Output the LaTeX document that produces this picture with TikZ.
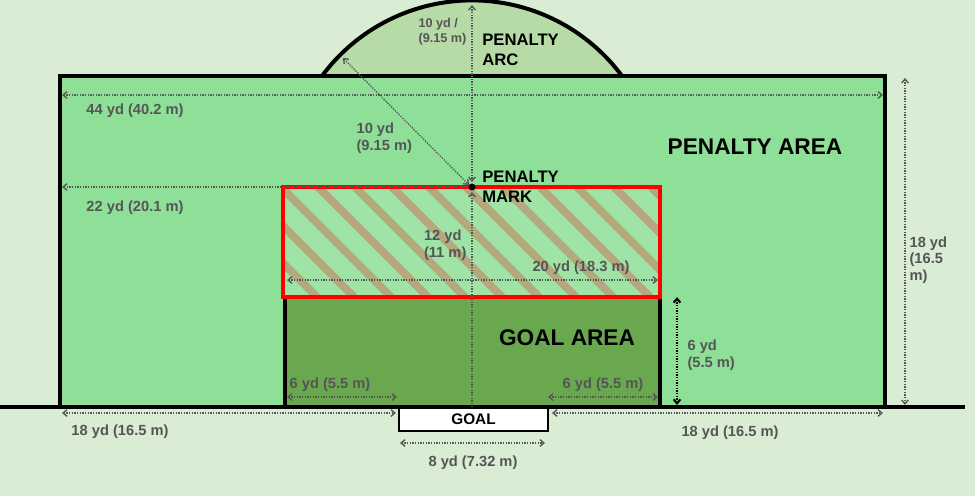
\documentclass[tikz,border=0pt]{standalone}
\usepackage{fontspec}
\setmainfont{Liberation Sans}
\usetikzlibrary{arrows.meta}
\definecolor{bg}{HTML}{D9ECD4}
\definecolor{pa}{HTML}{8EDF97}
\definecolor{arcc}{HTML}{B6DBA6}
\definecolor{ga}{HTML}{6AA84F}
\definecolor{hz}{HTML}{A0E3A6}
\definecolor{st}{HTML}{B3A97C}
\definecolor{dim}{HTML}{555555}
\begin{document}
\begin{tikzpicture}[x=0.75pt,y=-0.75pt,
  dimline/.style={dim,densely dotted,line width=1pt,{Straight Barb[length=3pt,width=5pt]}-{Straight Barb[length=3pt,width=5pt]}},
  dimone/.style={dim,densely dotted,line width=1pt,-{Straight Barb[length=3pt,width=5pt]}},
  lab/.style={text=dim,font=\bfseries\fontsize{11}{12.5}\selectfont,inner sep=1pt,align=left},
  big/.style={font=\bfseries\fontsize{17}{18}\selectfont,inner sep=0pt},
  mid/.style={font=\bfseries\fontsize{12.5}{13}\selectfont,inner sep=0pt,align=left,anchor=west},
  border/.style={line width=3pt,draw=black}]
\fill[bg] (0,0) rectangle (975,496);
\useasboundingbox (0,0) rectangle (975,496);
% arc
\coordinate (pm) at (472,187);
\filldraw[fill=arcc,border] (322,76) arc[start angle=-143.5,end angle=-36.5,radius=186.6];
% penalty area
\filldraw[fill=pa,border] (60,407) -- (60,76) -- (885,76) -- (885,407);
% goal area
\filldraw[fill=ga,border] (285,407) -- (285,297) -- (660,297) -- (660,407);
% hatched zone
\fill[hz] (283,187) rectangle (660,297);
\begin{scope}
\clip (283,187) rectangle (660,297);
\foreach \i in {0,...,14}{\draw[st,line width=6pt] (170+\i*37,187) -- (280+\i*37,297);}
\end{scope}
\draw[red,line width=3pt] (283,187) rectangle (660,297);
% goal line
\draw[line width=3pt] (0,407) -- (965,407);
\node[draw=black,line width=1.5pt,fill=white,minimum width=149*0.75pt,minimum height=23*0.75pt,anchor=north west,inner sep=0pt,font=\bfseries\fontsize{11.5}{12}\selectfont] (goal) at (398,407) {GOAL};
\fill (pm) circle (3.5);
% coordinates
\coordinate (a1) at (62,95); \coordinate (a2) at (883,95);
\coordinate (b1) at (62,187); \coordinate (b2) at (468,187);
\coordinate (arcpt) at (343,58); \coordinate (pmd) at (469,185);
\coordinate (top) at (472,5); \coordinate (pmu) at (472,182);
\coordinate (pml) at (472,192); \coordinate (gl) at (472,407);
\coordinate (c1) at (287,280); \coordinate (c2) at (658,280);
\coordinate (d1) at (287,397); \coordinate (d2) at (397,397);
\coordinate (e1) at (548,397); \coordinate (e2) at (658,397);
\coordinate (f1) at (677,297); \coordinate (f2) at (677,405);
\coordinate (g1) at (905,78); \coordinate (g2) at (905,405);
\coordinate (h1) at (62,413); \coordinate (h2) at (396,413);
\coordinate (i1) at (552,413); \coordinate (i2) at (883,413);
\coordinate (j1) at (400,443); \coordinate (j2) at (545,443);
\draw[dimline] (a1) -- (a2);
\draw[dimone] (b2) -- (b1);
\draw[dimline] (arcpt) -- (pmd);
\draw[dimline] (top) -- (pmu);
\draw[dimone] (gl) -- (pml);
\draw[dimline] (c1) -- (c2);
\draw[dimline] (d1) -- (d2);
\draw[dimline] (e1) -- (e2);
\draw[dimline,densely dotted,line width=1.6pt,black] (f1) -- (f2);
\draw[dimline] (g1) -- (g2);
\draw[dimline] (h1) -- (h2);
\draw[dimline] (i1) -- (i2);
\draw[dimline] (j1) -- (j2);
% labels
\node[lab] (l44) at (135,111) {44 yd (40.2 m)};
\node[lab] (l22) at (135,208) {22 yd (20.1 m)};
\node[lab,anchor=west] (l10) at (355,138) {10 yd\\(9.15 m)};
\node[lab,anchor=east,font=\bfseries\fontsize{9.5}{11}\selectfont] (l10b) at (468,32) {10 yd /\\(9.15 m)};
\node[lab,anchor=east] (l12) at (468,245) {12 yd\\(11 m)};
\node[lab] (l20) at (581,268) {20 yd (18.3 m)};
\node[lab] (l6a) at (330,385) {6 yd (5.5 m)};
\node[lab] (l6b) at (603,385) {6 yd (5.5 m)};
\node[lab,anchor=west] (l6c) at (686,355) {6 yd\\(5.5 m)};
\node[lab,anchor=west] (l18) at (908,260) {18 yd\\(16.5\\m)};
\node[lab] (l18a) at (120,432) {18 yd (16.5 m)};
\node[lab] (l18b) at (730,433) {18 yd (16.5 m)};
\node[lab] (l8) at (473,463) {8 yd (7.32 m)};
\node[big] (parea) at (755,147) {PENALTY AREA};
\node[big] (garea) at (567,338) {GOAL AREA};
\node[mid] (parc) at (482,50) {PENALTY\\[2pt]ARC};
\node[mid] (pmark) at (482,187) {PENALTY\\[2pt]MARK};
\end{tikzpicture}
\end{document}
